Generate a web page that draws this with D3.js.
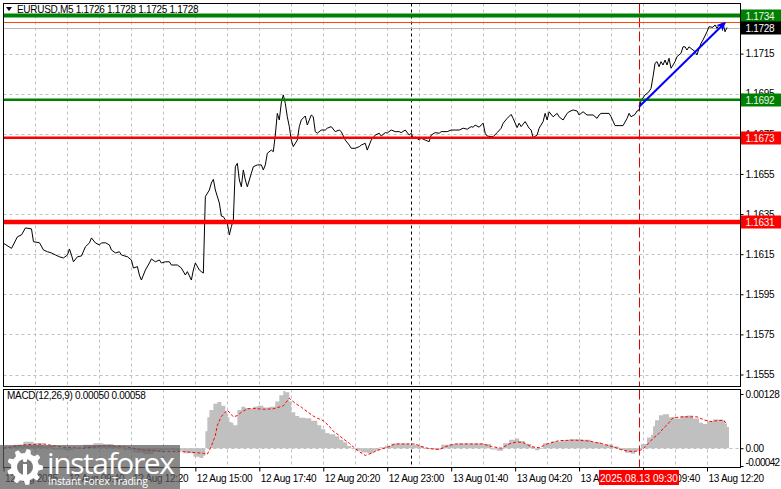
<!DOCTYPE html>
<html><head><meta charset="utf-8">
<script src="https://cdn.jsdelivr.net/npm/d3@7"></script>
<style>
body{margin:0;background:#fff;}
svg{display:block;font-family:"Liberation Sans",Arial,sans-serif;}
</style></head>
<body><svg id="c" width="781" height="489"></svg>
<script>
// ---------- DATA ----------
const symbolTitle = "EURUSD,M5  1.1726 1.1728 1.1725 1.1728";
// [bar index (5-min bars from 12 Aug 07:00), close]
const priceSeries = [[0,1.16204],[4,1.16179],[7,1.16237],[9,1.16246],[11,1.16281],[14,1.16276],[15,1.16212],[18,1.16207],[20,1.16171],[22,1.16162],[24,1.16156],[26,1.16146],[28,1.16137],[30,1.16131],[32,1.16146],[33,1.16176],[34,1.16146],[35,1.16112],[37,1.16137],[39,1.16141],[41,1.16187],[43,1.16206],[44,1.16231],[46,1.16206],[48,1.16196],[49,1.16206],[51,1.16207],[53,1.16196],[54,1.16171],[56,1.16156],[58,1.16162],[59,1.16146],[62,1.16137],[64,1.16121],[65,1.16081],[67,1.16088],[68,1.16046],[69,1.16021],[71,1.16071],[73,1.16106],[74,1.16126],[76,1.16112],[78,1.16121],[79,1.16106],[81,1.16112],[83,1.16112],[84,1.16096],[87,1.16096],[89,1.16081],[91,1.16046],[92,1.16063],[94,1.16021],[95,1.16071],[96,1.16106],[98,1.16071],[99,1.16063],[100,1.16056],[101,1.16437],[103,1.16470],[104,1.16505],[105,1.16523],[106,1.16470],[108,1.16405],[109,1.16340],[110,1.16337],[112,1.16305],[113,1.16246],[114,1.16287],[115,1.16320],[116,1.16586],[117,1.16603],[118,1.16520],[119,1.16486],[120,1.16570],[121,1.16520],[122,1.16486],[124,1.16553],[125,1.16586],[127,1.16595],[129,1.16595],[130,1.16570],[131,1.16595],[132,1.16653],[134,1.16669],[135,1.16661],[136,1.16744],[137,1.16852],[138,1.16819],[139,1.16904],[140,1.16944],[141,1.16902],[142,1.16835],[143,1.16786],[144,1.16719],[145,1.16686],[147,1.16719],[148,1.16786],[149,1.16819],[151,1.16839],[152,1.16794],[153,1.16819],[154,1.16844],[155,1.16835],[156,1.16761],[157,1.16753],[159,1.16769],[161,1.16769],[162,1.16778],[164,1.16786],[166,1.16761],[168,1.16769],[169,1.16761],[171,1.16719],[173,1.16694],[174,1.16678],[176,1.16678],[178,1.16686],[179,1.16694],[181,1.16703],[182,1.16669],[183,1.16694],[184,1.16719],[186,1.16744],[188,1.16753],[189,1.16739],[191,1.16756],[192,1.16754],[194,1.16769],[196,1.16761],[198,1.16761],[199,1.16756],[201,1.16769],[203,1.16744],[204,1.16753],[205,1.16728],[206,1.16734],[208,1.16719],[209,1.16728],[211,1.16719],[213,1.16711],[214,1.16744],[216,1.16756],[218,1.16753],[219,1.16761],[222,1.16761],[224,1.16769],[226,1.16769],[228,1.16769],[230,1.16778],[232,1.16773],[234,1.16786],[235,1.16783],[236,1.16794],[238,1.16783],[239,1.16794],[240,1.16803],[241,1.16753],[242,1.16739],[244,1.16736],[245,1.16736],[247,1.16756],[249,1.16778],[250,1.16803],[252,1.16827],[254,1.16847],[255,1.16827],[257,1.16781],[258,1.16803],[259,1.16786],[261,1.16811],[263,1.16778],[264,1.16769],[265,1.16731],[267,1.16744],[268,1.16778],[270,1.16811],[271,1.16852],[272,1.16819],[273,1.16860],[275,1.16835],[277,1.16852],[278,1.16835],[280,1.16819],[282,1.16852],[283,1.16860],[285,1.16869],[287,1.16864],[288,1.16844],[290,1.16860],[292,1.16844],[293,1.16844],[295,1.16844],[297,1.16827],[298,1.16844],[299,1.16852],[301,1.16852],[303,1.16852],[304,1.16835],[306,1.16791],[308,1.16791],[310,1.16791],[312,1.16827],[313,1.16852],[314,1.16835],[316,1.16847],[317,1.16864],[318,1.16869],[319,1.16915],[321,1.16944],[323,1.16960],[324,1.16977],[325,1.17035],[326,1.17102],[327,1.17110],[328,1.17085],[329,1.17110],[330,1.17093],[331,1.17118],[332,1.17093],[333,1.17127],[334,1.17077],[335,1.17093],[336,1.17110],[337,1.17135],[339,1.17152],[340,1.17184],[341,1.17184],[342,1.17168],[343,1.17184],[345,1.17168],[346,1.17160],[347,1.17143],[348,1.17176],[349,1.17201],[350,1.17218],[352,1.17259],[353,1.17284],[355,1.17281],[356,1.17293],[357,1.17276],[358,1.17293],[360,1.17301],[361,1.17259],[362,1.17280]];

const macdTitle = "MACD(12,26,9) 0.00050 0.00058";
const macdHist = [[0,0.00002],[5,0.00008],[10,0.00015],[15,0.00012],[20,0.00005],[25,-0.00003],[30,-0.00005],[35,0.00000],[40,0.00008],[45,0.00012],[50,0.00010],[55,0.00004],[60,-0.00004],[65,-0.00010],[70,-0.00014],[75,-0.00008],[80,-0.00005],[85,-0.00006],[90,-0.00012],[95,-0.00020],[98,-0.00023],[100,-0.00018],[101,0.00040],[102,0.00073],[103,0.00090],[105,0.00105],[107,0.00109],[109,0.00100],[111,0.00085],[112,0.00073],[113,0.00062],[114,0.00060],[115,0.00054],[117,0.00090],[119,0.00098],[121,0.00095],[123,0.00093],[125,0.00098],[127,0.00100],[130,0.00096],[133,0.00098],[136,0.00110],[138,0.00125],[140,0.00135],[141,0.00132],[143,0.00110],[144,0.00085],[146,0.00076],[148,0.00072],[151,0.00071],[154,0.00065],[157,0.00054],[159,0.00045],[161,0.00036],[163,0.00033],[166,0.00028],[168,0.00020],[170,0.00014],[172,0.00005],[174,0.00000],[176,-0.00006],[179,-0.00010],[182,-0.00012],[185,-0.00006],[188,0.00002],[191,0.00006],[194,0.00011],[199,0.00011],[203,0.00008],[207,0.00006],[210,-0.00001],[215,-0.00003],[219,0.00008],[223,0.00010],[227,0.00011],[240,0.00010],[244,-0.00003],[247,-0.00006],[250,0.00012],[253,0.00020],[256,0.00023],[258,0.00017],[261,0.00010],[264,0.00003],[266,-0.00005],[268,-0.00002],[270,0.00012],[274,0.00016],[279,0.00019],[283,0.00021],[290,0.00020],[294,0.00014],[299,0.00009],[305,0.00004],[308,-0.00004],[311,-0.00011],[314,-0.00013],[316,-0.00006],[318,0.00000],[319,0.00010],[322,0.00025],[324,0.00032],[325,0.00052],[326,0.00066],[328,0.00078],[330,0.00080],[333,0.00073],[336,0.00070],[339,0.00076],[342,0.00077],[345,0.00070],[348,0.00060],[350,0.00057],[352,0.00063],[355,0.00068],[358,0.00067],[360,0.00066],[361,0.00058],[362,0.00050],[363,0.00050]];
const macdSignal = [[0,0.00000],[10,0.00008],[20,0.00010],[30,0.00002],[40,0.00000],[50,0.00006],[60,0.00004],[70,-0.00004],[80,-0.00008],[90,-0.00008],[100,-0.00012],[102,-0.00014],[104,0.00005],[106,0.00030],[107,0.00054],[109,0.00075],[112,0.00090],[115,0.00074],[117,0.00077],[119,0.00085],[122,0.00093],[125,0.00094],[130,0.00092],[135,0.00093],[140,0.00100],[143,0.00118],[146,0.00106],[149,0.00097],[152,0.00086],[155,0.00076],[157,0.00071],[160,0.00065],[163,0.00052],[165,0.00040],[168,0.00030],[170,0.00022],[173,0.00012],[175,0.00003],[178,-0.00008],[181,-0.00017],[184,-0.00012],[187,-0.00005],[192,0.00002],[196,0.00010],[200,0.00010],[206,0.00010],[209,0.00004],[213,-0.00001],[218,-0.00003],[222,0.00005],[226,0.00010],[240,0.00010],[244,0.00004],[249,0.00000],[253,0.00010],[257,0.00015],[260,0.00013],[264,0.00004],[268,0.00001],[272,0.00010],[278,0.00018],[286,0.00019],[293,0.00017],[300,0.00010],[306,0.00002],[310,-0.00005],[315,-0.00008],[318,-0.00006],[320,-0.00002],[322,0.00008],[325,0.00023],[328,0.00035],[330,0.00046],[333,0.00060],[335,0.00072],[340,0.00074],[347,0.00074],[351,0.00066],[354,0.00063],[357,0.00065],[360,0.00066],[362,0.00058]];

const priceTicks = [1.1555,1.1575,1.1595,1.1615,1.1635,1.1655,1.1675,1.1695,1.1715,1.1735];
const macdTicks = [0.00128, 0, -0.00042];
const macdTickLabels = ["0.00128","0.00","-0.00042"];
const timeTickBars = [0,32,64,96,128,160,192,224,256,288,320,352];
const timeTickLabels = ["12 Aug 2025","12 Aug 09:40","12 Aug 12:20","12 Aug 15:00","12 Aug 17:40","12 Aug 20:20","12 Aug 23:00","13 Aug 01:40","13 Aug 04:20","13 Aug 07:00","13 Aug 09:40","13 Aug 12:20"];
const levelPrices = [1.1734, 1.1692, 1.1673, 1.1631];
const bidPrice = 1.1728;
const askPrice = 1.1731;
const daySeparatorBar = 204;
const cursorBar = 318;
const cursorLabel = "2025.08.13 09:30";
const arrowFrom = [318, 1.16885];
const arrowTo = [361, 1.17304];

// ---------- LAYOUT ----------
const svg = d3.select("#c");
const L = 3.5, R = 740.5, mainTop = 3.5, mainBot = 386.5, subTop = 389.5, subBot = 467.5;
const x = d3.scaleLinear().domain([0, 352]).range([3.5, 707]);
const y = d3.scaleLinear().domain([1.1555, 1.1735]).range([374.5, 13.5]);
const ym = d3.scaleLinear().domain([-0.00042, 0.00128]).range([466, 394]);
const levelStyle = {
  "1.1734": {c:"#008000", w:4}, "1.1692": {c:"#008000", w:2.5},
  "1.1673": {c:"#ff0000", w:2.5}, "1.1631": {c:"#ff0000", w:4.5}
};
const fmt4 = d3.format(".4f");

svg.append("rect").attr("width",781).attr("height",489).attr("fill","#fff");

svg.append("clipPath").attr("id","cm").append("rect").attr("x",L).attr("y",mainTop).attr("width",R-L).attr("height",mainBot-mainTop);
svg.append("clipPath").attr("id","cs").append("rect").attr("x",L).attr("y",subTop).attr("width",R-L).attr("height",subBot-subTop);

const gMain = svg.append("g").attr("clip-path","url(#cm)");
const gSub = svg.append("g").attr("clip-path","url(#cs)");

// vertical grid
const vgrid = d3.range(16, 368, 16);
[ [gMain, mainTop, mainBot], [gSub, subTop, subBot] ].forEach(([g, t, b]) => {
  g.selectAll("line.vg").data(vgrid).join("line").attr("class","vg")
    .attr("x1", d => Math.round(x(d)) + 0.5).attr("x2", d => Math.round(x(d)) + 0.5)
    .attr("y1", t).attr("y2", b)
    .attr("stroke","#c0c0c0").attr("stroke-dasharray","3,3");
});
// horizontal grid
gMain.selectAll("line.hg").data(priceTicks).join("line")
  .attr("x1", L).attr("x2", R)
  .attr("y1", d => Math.round(y(d)) + 0.5).attr("y2", d => Math.round(y(d)) + 0.5)
  .attr("stroke","#c0c0c0").attr("stroke-dasharray","3,3");
gSub.append("line").attr("x1",L).attr("x2",R)
  .attr("y1", Math.round(ym(0))+0.5).attr("y2", Math.round(ym(0))+0.5)
  .attr("stroke","#c0c0c0").attr("stroke-dasharray","3,3");

// day separator and cursor lines
[ [gMain, mainTop, mainBot], [gSub, subTop, subBot] ].forEach(([g, t, b]) => {
  g.append("line").attr("x1", Math.round(x(daySeparatorBar))+0.5).attr("x2", Math.round(x(daySeparatorBar))+0.5)
    .attr("y1", t).attr("y2", b).attr("stroke","#000").attr("stroke-dasharray","3,3");
  g.append("line").attr("x1", Math.round(x(cursorBar))+0.5).attr("x2", Math.round(x(cursorBar))+0.5)
    .attr("y1", t).attr("y2", b).attr("stroke","#e00000").attr("stroke-dasharray","10,4");
});

// ask & bid lines
gMain.append("line").attr("x1",L).attr("x2",R).attr("y1",Math.round(y(askPrice))+0.5).attr("y2",Math.round(y(askPrice))+0.5)
  .attr("stroke","#ff4500").attr("stroke-width",1);
gMain.append("line").attr("x1",L).attr("x2",R).attr("y1",Math.round(y(bidPrice))+0.5).attr("y2",Math.round(y(bidPrice))+0.5)
  .attr("stroke","#b8b8b8").attr("stroke-width",1);

// price line
gMain.append("path").datum(priceSeries)
  .attr("d", d3.line().x(d => x(d[0])).y(d => y(d[1])))
  .attr("fill","none").attr("stroke","#000").attr("stroke-width",1);

// level lines
levelPrices.forEach(p => {
  const s = levelStyle[fmt4(p)];
  gMain.append("line").attr("x1",L).attr("x2",R).attr("y1",y(p)).attr("y2",y(p))
    .attr("stroke", s.c).attr("stroke-width", s.w);
});

// arrow
svg.append("defs").append("marker").attr("id","ah").attr("viewBox","0 0 10 10")
  .attr("refX",9).attr("refY",5).attr("markerWidth",4.5).attr("markerHeight",4.5)
  .attr("orient","auto").append("path").attr("d","M0,0 L10,5 L0,10 L3,5 z").attr("fill","#0000ff");
gMain.append("line").attr("x1",x(arrowFrom[0])).attr("y1",y(arrowFrom[1]))
  .attr("x2",x(arrowTo[0])).attr("y2",y(arrowTo[1]))
  .attr("stroke","#0000ff").attr("stroke-width",2).attr("marker-end","url(#ah)");

// MACD histogram + signal
gSub.append("path").datum(macdHist)
  .attr("d", d3.area().curve(d3.curveStepAfter).x(d => x(d[0])).y0(ym(0)).y1(d => ym(d[1])))
  .attr("fill","#c0c0c0");
gSub.append("path").datum(macdSignal)
  .attr("d", d3.line().x(d => x(d[0])).y(d => ym(d[1])))
  .attr("fill","none").attr("stroke","#ff0000").attr("stroke-width",1).attr("stroke-dasharray","3,2");

// frames
svg.append("rect").attr("x",L).attr("y",mainTop).attr("width",R-L).attr("height",mainBot-mainTop).attr("fill","none").attr("stroke","#000");
svg.append("rect").attr("x",L).attr("y",subTop).attr("width",R-L).attr("height",subBot-subTop).attr("fill","none").attr("stroke","#000");

// price axis (top tick label hidden beneath the 1.1734 level box in the reference)
const ax = svg.append("g").attr("transform",`translate(${R},0)`)
  .call(d3.axisRight(y).tickValues(priceTicks).tickFormat(d => d >= 1.1735 ? "" : fmt4(d)).tickSize(3).tickPadding(2));
ax.select(".domain").remove();
ax.selectAll("text").attr("font-size",10).attr("letter-spacing","-0.3").attr("fill","#000");
ax.selectAll("line").attr("stroke","#000");

// MACD axis
const axm = svg.append("g").attr("transform",`translate(${R},0)`)
  .call(d3.axisRight(ym).tickValues(macdTicks).tickFormat((d,i) => macdTickLabels[i]).tickSize(3).tickPadding(2));
axm.select(".domain").remove();
axm.selectAll("text").attr("font-size",10).attr("fill","#000")
  .attr("letter-spacing", (d,i) => i === 2 ? "-0.7" : "-0.3")
  .attr("y", (d,i) => i === 2 ? -4 : 0);
axm.selectAll("line").attr("stroke","#000");

// level boxes
const boxW = 40, boxH = 13;
function priceBox(p, fill, tc) {
  const cy = Math.round(y(p));
  svg.append("rect").attr("x", R + 0.5).attr("y", cy - 6.5).attr("width", boxW).attr("height", boxH).attr("fill", fill);
  svg.append("text").attr("x", R + 5).attr("y", cy + 4).attr("font-size",10).attr("letter-spacing","-0.3")
    .attr("fill", tc).text(fmt4(p));
}
levelPrices.forEach(p => priceBox(p, levelStyle[fmt4(p)].c, "#eef6ee"));
priceBox(bidPrice, "#000", "#fff");

// time axis
const axt = svg.append("g").attr("transform",`translate(0,${subBot})`)
  .call(d3.axisBottom(x).tickValues(timeTickBars).tickFormat((d,i) => timeTickLabels[i]).tickSize(4).tickPadding(3));
axt.select(".domain").remove();
axt.selectAll("text").attr("font-size",10).attr("letter-spacing","-0.3").attr("text-anchor","start").attr("dx", 1).attr("fill","#000");
axt.selectAll("line").attr("stroke","#000");

// cursor time label
const cx = Math.round(x(cursorBar));
svg.append("rect").attr("x", cx - 40).attr("y", 470).attr("width", 80).attr("height", 15).attr("fill","#ff0000");
svg.append("text").attr("x", cx).attr("y", 481.5).attr("text-anchor","middle").attr("font-size",10)
  .attr("fill","#fff").text(cursorLabel);

// titles
svg.append("path").attr("d","M6,7 L12,7 L9,11 Z").attr("fill","#000");
svg.append("text").attr("x",17).attr("y",13).attr("font-size",10).attr("letter-spacing","-0.3").attr("fill","#000").text(symbolTitle);
svg.append("text").attr("x",7).attr("y",399).attr("font-size",10).attr("letter-spacing","-0.3").attr("fill","#000").text(macdTitle);

// watermark logo
const logo = svg.append("g");
logo.append("rect").attr("x",0).attr("y",445).attr("width",180).attr("height",44).attr("fill","#5a5a5a").attr("opacity",0.72);
const gc = [25, 467], rOut = 18, rIn = 14, teeth = 9;
let gp = "";
for (let i = 0; i < teeth; i++) {
  const a0 = (i / teeth) * 2 * Math.PI, step = 2 * Math.PI / teeth;
  const pts = [[a0, rIn],[a0 + step*0.15, rOut],[a0 + step*0.45, rOut],[a0 + step*0.6, rIn]];
  pts.forEach(([a, r], k) => { gp += (i === 0 && k === 0 ? "M" : "L") + (gc[0] + r*Math.sin(a)).toFixed(1) + "," + (gc[1] - r*Math.cos(a)).toFixed(1); });
}
gp += "Z";
logo.append("path").attr("d", gp).attr("fill","#fff");
logo.append("circle").attr("cx",gc[0]).attr("cy",gc[1]).attr("r",8).attr("fill","#7a7a7a");
logo.append("rect").attr("x",gc[0]-2).attr("y",gc[1]-3).attr("width",4).attr("height",12).attr("fill","#fff");
logo.append("circle").attr("cx",gc[0]).attr("cy",gc[1]-7).attr("r",2.2).attr("fill","#fff");
logo.append("text").attr("x",47).attr("y",474).attr("font-size",30).attr("font-family","Open Sans, Liberation Sans, sans-serif")
  .attr("fill","#fff").attr("textLength",128).text("instaforex");
logo.append("text").attr("x",48).attr("y",485).attr("font-size",10.5).attr("font-family","Open Sans, Liberation Sans, sans-serif")
  .attr("fill","#fff").attr("textLength",100).text("Instant Forex Trading");
</script></body></html>
